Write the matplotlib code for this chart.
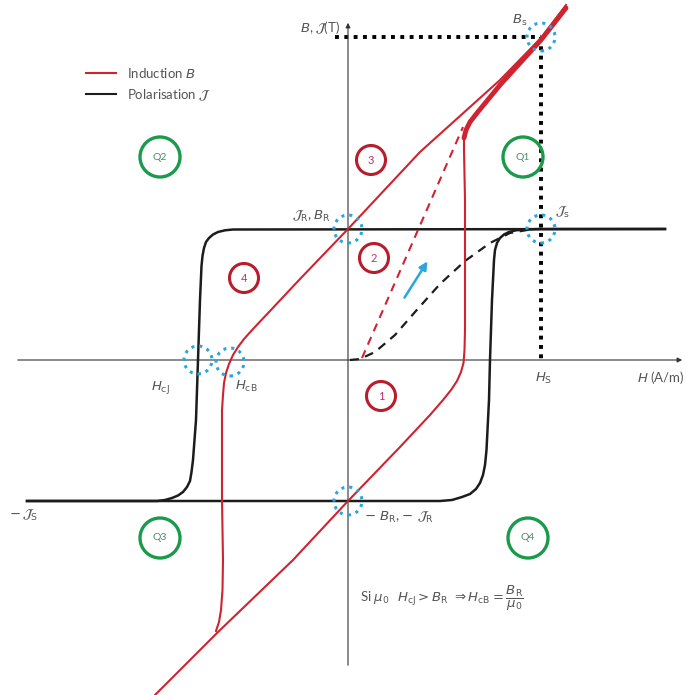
import matplotlib.pyplot as plt
from matplotlib.patches import Circle
from matplotlib.lines import Line2D

# --- data (H, B in arbitrary schematic units) ---
# polarisation J, descending branch (top line -> left side -> bottom left)
j_down_h = [3.17, -1.15, -1.23, -1.30, -1.35, -1.39, -1.42, -1.44, -1.455, -1.465, -1.48, -1.50, -1.52,
            -1.55, -1.565, -1.58, -1.61, -1.65, -1.70, -1.76, -1.83, -1.91, -3.21]
j_down_b = [1.31, 1.305, 1.297, 1.28, 1.255, 1.22, 1.18, 1.12, 1.04, 0.94, 0.60, 0.00, -0.60,
            -1.00, -1.12, -1.21, -1.27, -1.32, -1.355, -1.38, -1.40, -1.41, -1.41]
# polarisation J, ascending branch (bottom line -> right side -> top right)
j_up_h = [-3.21, 0.92, 1.04, 1.14, 1.22, 1.28, 1.32, 1.35, 1.37, 1.385, 1.41, 1.42, 1.44,
          1.46, 1.47, 1.49, 1.52, 1.56, 1.61, 1.68, 1.77, 1.92, 3.17]
j_up_b = [-1.41, -1.41, -1.40, -1.37, -1.34, -1.29, -1.23, -1.15, -1.05, -0.90, -0.40, 0.00, 0.60,
          1.00, 1.10, 1.17, 1.22, 1.255, 1.28, 1.297, 1.305, 1.31, 1.31]
# first magnetisation curve of J
j_first_h = [0.02, 0.12, 0.27, 0.47, 0.67, 0.92, 1.17, 1.42, 1.62, 1.82]
j_first_b = [0.00, 0.01, 0.08, 0.25, 0.48, 0.76, 0.99, 1.17, 1.27, 1.305]

# induction B, descending branch
b_down_h = [2.18, 1.93, 1.52, 0.72, 0.00, -0.48, -0.78, -0.95, -1.04, -1.10, -1.15, -1.19, -1.22,
            -1.24, -1.25, -1.26, -1.26, -1.25, -1.255, -1.27, -1.29, -1.32]
b_down_b = [3.55, 3.22, 2.80, 2.08, 1.31, 0.81, 0.49, 0.31, 0.21, 0.13, 0.05, -0.04, -0.13,
            -0.23, -0.35, -0.50, -1.40, -2.00, -2.30, -2.50, -2.62, -2.71]
# induction B, ascending branch
b_up_h = [-1.93, -1.31, -0.55, 0.00, 0.52, 0.82, 0.95, 1.03, 1.09, 1.13, 1.155, 1.165, 1.17,
          1.17, 1.16, 1.16, 1.18, 1.22, 1.29, 1.52, 1.93, 2.18]
b_up_b = [-3.35, -2.73, -2.00, -1.41, -0.87, -0.55, -0.40, -0.30, -0.21, -0.12, -0.03, 0.10, 0.30,
          1.60, 2.10, 2.22, 2.30, 2.38, 2.47, 2.75, 3.20, 3.52]
# first magnetisation curve of B
b_first_h = [0.14, 0.70, 1.15]
b_first_b = [0.02, 1.30, 2.33]

# characteristic points
Hs, Bs, Js = 1.93, 3.23, 1.31
points_h = [0.0, Hs, Hs, -1.50, -1.18, 0.0]
points_b = [1.31, Js, Bs, 0.0, -0.02, -1.41]

# numbered zones and quadrants
zone_labels = ['1', '2', '3', '4']
zone_h = [0.33, 0.26, 0.23, -1.04]
zone_b = [-0.36, 1.02, 2.00, 0.82]
quad_labels = ['Q1', 'Q2', 'Q3', 'Q4']
quad_h = [1.75, -1.88, -1.88, 1.80]
quad_b = [2.03, 2.03, -1.78, -1.78]

red = '#cf2330'
black = '#1c1c1c'
grey = '#555555'
blue = '#2aa6df'
green = '#1c9a4c'

plt.rcParams['font.family'] = ['Lato', 'DejaVu Sans']
plt.rcParams['mathtext.fontset'] = 'dejavusans'

fig = plt.figure(figsize=(6.86, 6.95), dpi=100)
ax = fig.add_axes([0, 0, 1, 1])
ax.set_xlim(-3.48, 3.38)
ax.set_ylim(-3.35, 3.60)
ax.set_aspect('equal')
ax.axis('off')

# axes with arrows
ax.annotate('', xy=(3.37, 0), xytext=(-3.33, 0),
            arrowprops=dict(arrowstyle='-|>', lw=0.8, color='#333333', mutation_scale=7))
ax.annotate('', xy=(0, 3.40), xytext=(0, -3.08),
            arrowprops=dict(arrowstyle='-|>', lw=0.8, color='#333333', mutation_scale=7))

# saturation guide lines
ax.plot([-0.13, Hs], [Bs, Bs], color='black', lw=2.8, ls=(0, (1, 1.4)), zorder=2)
ax.plot([Hs, Hs], [Bs, 0], color='black', lw=2.8, ls=(0, (1, 1.4)), zorder=2)

# polarisation loop
ax.plot(j_down_h, j_down_b, color=black, lw=1.8, zorder=3)
ax.plot(j_up_h, j_up_b, color=black, lw=1.8, zorder=3)
ax.plot(j_first_h, j_first_b, color=black, lw=1.6, ls=(0, (4, 3)), zorder=3)

# induction loop
ax.plot(b_down_h, b_down_b, color=red, lw=1.5, zorder=4)
ax.plot(b_up_h, b_up_b, color=red, lw=1.5, zorder=4)
ax.plot(b_up_h[-7:], b_up_b[-7:], color=red, lw=3.5, solid_capstyle='round', zorder=4)
ax.plot(b_first_h, b_first_b, color=red, lw=1.5, ls=(0, (4, 3)), zorder=4)

# direction arrow
ax.annotate('', xy=(0.81, 1.01), xytext=(0.55, 0.60),
            arrowprops=dict(arrowstyle='-|>', lw=1.8, color=blue, mutation_scale=12))

# dotted markers at characteristic points
for h, b in zip(points_h, points_b):
    ax.add_patch(Circle((h, b), 0.14, fill=False, ec=blue, lw=2.2, ls=(0, (1, 1.6)), zorder=5))

for lab, h, b in zip(zone_labels, zone_h, zone_b):
    ax.add_patch(Circle((h, b), 0.145, fill=False, ec='#b81d2c', lw=2.2, zorder=5))
    ax.text(h, b, lab, color='#c0306a', fontsize=8, ha='center', va='center', zorder=6)

for lab, h, b in zip(quad_labels, quad_h, quad_b):
    ax.add_patch(Circle((h, b), 0.20, fill=False, ec=green, lw=2.4, zorder=5))
    ax.text(h, b, lab, color='#4f8a68', fontsize=7.5, ha='center', va='center', zorder=6)

# labels
fs = 9.5
ax.text(-0.08, 3.32, r'$B$, $\mathcal{J}$(T)', color=grey, fontsize=fs, ha='right', va='center')
ax.text(1.72, 3.40, r'$B_{\rm s}$', color=grey, fontsize=fs, ha='center', va='center')
ax.text(-0.17, 1.44, r'$\mathcal{J}_{\rm R}$, $B_{\rm R}$', color=grey, fontsize=fs, ha='right', va='center')
ax.text(2.07, 1.48, r'$\mathcal{J}_{\rm s}$', color=grey, fontsize=fs, ha='left', va='center')
ax.text(1.96, -0.18, r'$H_{\rm S}$', color=grey, fontsize=fs, ha='center', va='center')
ax.text(2.89, -0.18, r'$H$ (A/m)', color=grey, fontsize=fs, ha='left', va='center')
ax.text(-1.88, -0.28, r'$H_{\rm cJ}$', color=grey, fontsize=fs, ha='center', va='center')
ax.text(-1.02, -0.26, r'$H_{\rm cB}$', color=grey, fontsize=fs, ha='center', va='center')
ax.text(-3.24, -1.55, r'$-\,\mathcal{J}_{\rm S}$', color=grey, fontsize=fs, ha='center', va='center')
ax.text(0.16, -1.57, r'$-\ B_{\rm R}$, $-\ \mathcal{J}_{\rm R}$', color=grey, fontsize=fs, ha='left', va='center')
ax.text(0.12, -2.38,
        r'Si $\mu_0\ \ H_{\rm cJ} > B_{\rm R} \ \Rightarrow H_{\rm cB} = \dfrac{B_{\rm R}}{\mu_0}$',
        color=grey, fontsize=fs, ha='left', va='center')

# legend
handles = [Line2D([], [], color=red, lw=1.5), Line2D([], [], color=black, lw=1.5)]
leg = ax.legend(handles, [r'Induction $B$', r'Polarisation $\mathcal{J}$'],
                loc='upper left', bbox_to_anchor=(0.108, 0.922), frameon=False,
                fontsize=fs, handlelength=2.3, labelspacing=0.55, handletextpad=0.8)
for t in leg.get_texts():
    t.set_color(grey)

fig.savefig('out.png', dpi=100)
